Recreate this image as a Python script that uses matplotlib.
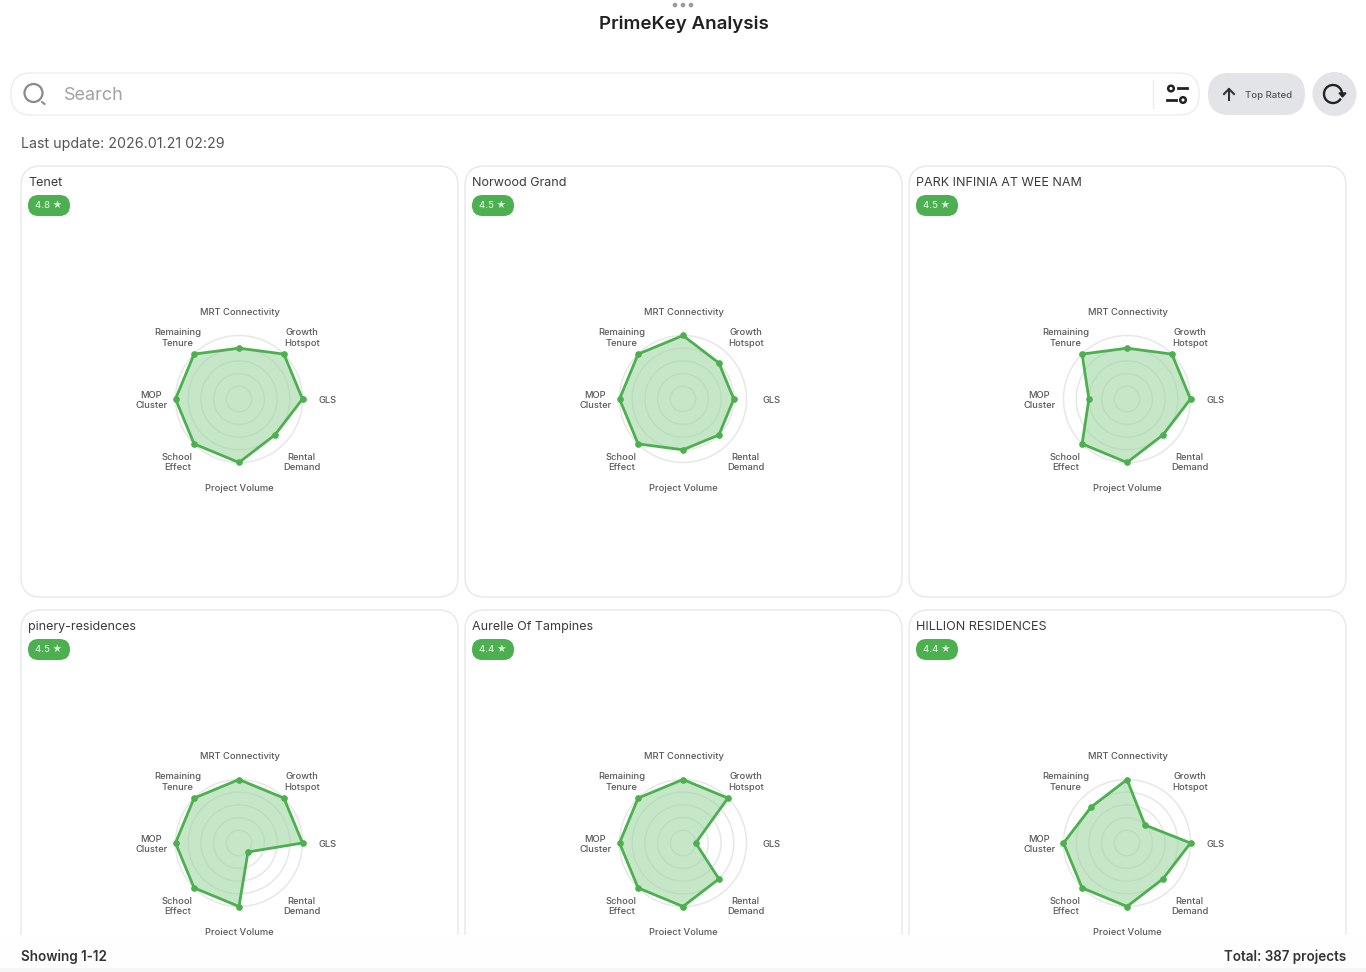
# PrimeKey Analysis dashboard, radar cards
import matplotlib
matplotlib.use("Agg")
import matplotlib.pyplot as plt
from matplotlib.patches import FancyBboxPatch, Circle, Arc
from numpy import linspace, pi, concatenate

plt.rcParams['font.family'] = ['Inter', 'DejaVu Sans']

W, H = 1366, 972

# -------------------- Data --------------------
axis_labels = ["MRT Connectivity", "Growth\nHotspot", "GLS", "Rental\nDemand",
               "Project Volume", "School\nEffect", "MOP\nCluster", "Remaining\nTenure"]
names = ["Tenet", "Norwood Grand", "PARK INFINIA AT WEE NAM",
         "pinery-residences", "Aurelle Of Tampines", "HILLION RESIDENCES"]
ratings = ["4.8", "4.5", "4.5", "4.5", "4.4", "4.4"]

tenet = [4, 5, 5, 4, 5, 5, 5, 5]
norwood = [5, 4, 4, 4, 4, 5, 5, 5]
park = [4, 5, 5, 4, 5, 5, 3, 5]
pinery = [5, 5, 5, 1, 5, 5, 5, 5]
aurelle = [5, 5, 1, 4, 5, 5, 5, 5]
hillion = [5, 2, 5, 4, 5, 5, 5, 4]
scores = [tenet, norwood, park, pinery, aurelle, hillion]

rings = [1, 2, 3, 4, 5]

# -------------------- Layout (pixels) --------------------
card_x = [21, 465, 909]
card_y = [166, 610]
card_w = 437
card_h = 431
radius = 63.5
label_r = 5 * 88 / radius

green = '#4CAF50'
fill_green = '#C6E6C8'
grid_col = '#E6E8E6'
ring_on_fill = '#BBDCBD'
label_col = '#585858'

fig = plt.figure(figsize=(W / 100, H / 100), dpi=100, facecolor='white')


def pixel_axes(zorder):
    a = fig.add_axes([0, 0, 1, 1], zorder=zorder)
    a.set_xlim(0, W)
    a.set_ylim(H, 0)
    a.axis('off')
    a.patch.set_alpha(0)
    return a


def rbox(a, x, y, w, h, r, **kw):
    a.add_patch(FancyBboxPatch((x + r, y + r), w - 2 * r, h - 2 * r,
                               boxstyle="round,pad=%f,rounding_size=%f" % (r, r), **kw))


bg = pixel_axes(0)

# top bar
for dx in [-8, 0, 8]:
    bg.add_patch(Circle((683 + dx, 5), 2.3, fc='#9A9A9A', ec='none'))
bg.text(683.5, 24, "PrimeKey Analysis", ha='center', va='center', fontsize=13.5,
        fontweight='semibold', color='#222222')

# search bar
rbox(bg, 11, 73, 1188, 42, 20, fc='white', ec='#EDEDED', lw=1)
bg.add_patch(Circle((33.5, 93), 9, fc='none', ec='#8A8A8A', lw=1.6))
bg.plot([42, 44.5], [102, 104], color='#8A8A8A', lw=1.4)
bg.text(63.5, 95, "Search", ha='left', va='center', fontsize=13, color='#A2A2A2')
bg.plot([1153, 1153], [80, 108], color='#EBEBEB', lw=1)

# filter icon
bg.add_patch(Circle((1171, 88.5), 2.8, fc='none', ec='#222222', lw=1.8))
bg.plot([1178, 1187], [88.5, 88.5], color='#222222', lw=2)
bg.add_patch(Circle((1183, 100), 2.8, fc='none', ec='#222222', lw=1.8))
bg.plot([1167, 1176], [100, 100], color='#222222', lw=2)

# top rated button
rbox(bg, 1208, 73, 97, 42, 21, fc='#E3E4E8', ec='none')
bg.plot([1229, 1229], [100, 89], color='#333333', lw=1.5)
bg.plot([1224, 1229, 1234], [94, 89, 94], color='#333333', lw=1.5)
bg.text(1268.5, 95.5, "Top Rated", ha='center', va='center', fontsize=6.9,
        fontweight='medium', color='#555555')

# refresh button
bg.add_patch(Circle((1334.5, 94), 22, fc='#E3E4E8', ec='none'))
bg.add_patch(Arc((1333, 94), 18, 18, theta1=30, theta2=360, ec='#222222', lw=1.7))
bg.fill([1339, 1346, 1342.5], [93, 93, 97], color='#222222')

bg.text(21, 144, "Last update: 2026.01.21 02:29", ha='left', va='center',
        fontsize=10.25, color='#555555')

# -------------------- Cards --------------------
angles = linspace(0, 2 * pi, len(axis_labels), endpoint=False)
theta_ring = linspace(0, 2 * pi, 200)

for i, vals in enumerate(scores):
    x0 = card_x[i % 3]
    y0 = card_y[i // 3]
    rbox(bg, x0, y0, card_w, card_h, 20, fc='white', ec='#E8E8E8', lw=1)
    bg.text(x0 + 7, y0 + 17, names[i], ha='left', va='center', fontsize=9, color='#3A3A3A')
    rbox(bg, x0 + 7, y0 + 29, 42, 21, 10.5, fc=green, ec='none')
    bg.text(x0 + 28, y0 + 39.5, ratings[i] + " ★", ha='center', va='center',
            fontsize=6.8, fontweight='medium', color='#DDF0DE')

    cx = x0 + card_w / 2 - 0.5
    cy = y0 + 233
    ax = fig.add_axes([(cx - radius) / W, 1 - (cy + radius) / H,
                       2 * radius / W, 2 * radius / H],
                      projection='polar', zorder=1)
    ax.set_theta_zero_location('N')
    ax.set_theta_direction(-1)
    ax.set_ylim(0, 5)
    ax.axis('off')
    ax.patch.set_alpha(0)
    for r in rings:
        ax.plot(theta_ring, [r] * len(theta_ring), color=grid_col, lw=1.1, zorder=1, clip_on=False)
    t = concatenate((angles, angles[:1]))
    v = vals + vals[:1]
    poly = ax.fill(t, v, color=fill_green, zorder=2, lw=0, clip_on=False)[0]
    # rings show faintly through the fill
    for r in rings:
        ring = ax.plot(theta_ring, [r] * len(theta_ring), color=ring_on_fill, lw=1, zorder=2.5, clip_on=True)[0]
        ring.set_clip_path(poly)
    ax.plot(t, v, color=green, lw=2, zorder=3, clip_on=False)
    ax.plot(angles, vals, 'o', color=green, ms=3.8, zorder=4, clip_on=False)
    for ang, lab in zip(angles, axis_labels):
        ax.annotate(lab, (ang, label_r), xytext=(0.4, -1), textcoords='offset points',
                    ha='center', va='center', fontsize=6.75, color=label_col,
                    linespacing=1.25, fontweight='medium', annotation_clip=False)

# -------------------- Footer --------------------
fg = pixel_axes(5)
fg.fill([0, W, W, 0], [935, 935, H, H], color='#FEFEFE', lw=0)
fg.fill([0, W, W, 0], [968, 968, H, H], color='#F6F6F6', lw=0)
fg.text(21, 956.5, "Showing 1-12", ha='left', va='center', fontsize=9.7,
        fontweight='semibold', color='#333333')
fg.text(1346, 956.5, "Total: 387 projects", ha='right', va='center', fontsize=9.7,
        fontweight='semibold', color='#333333')

fig.savefig('out.png', dpi=100)
